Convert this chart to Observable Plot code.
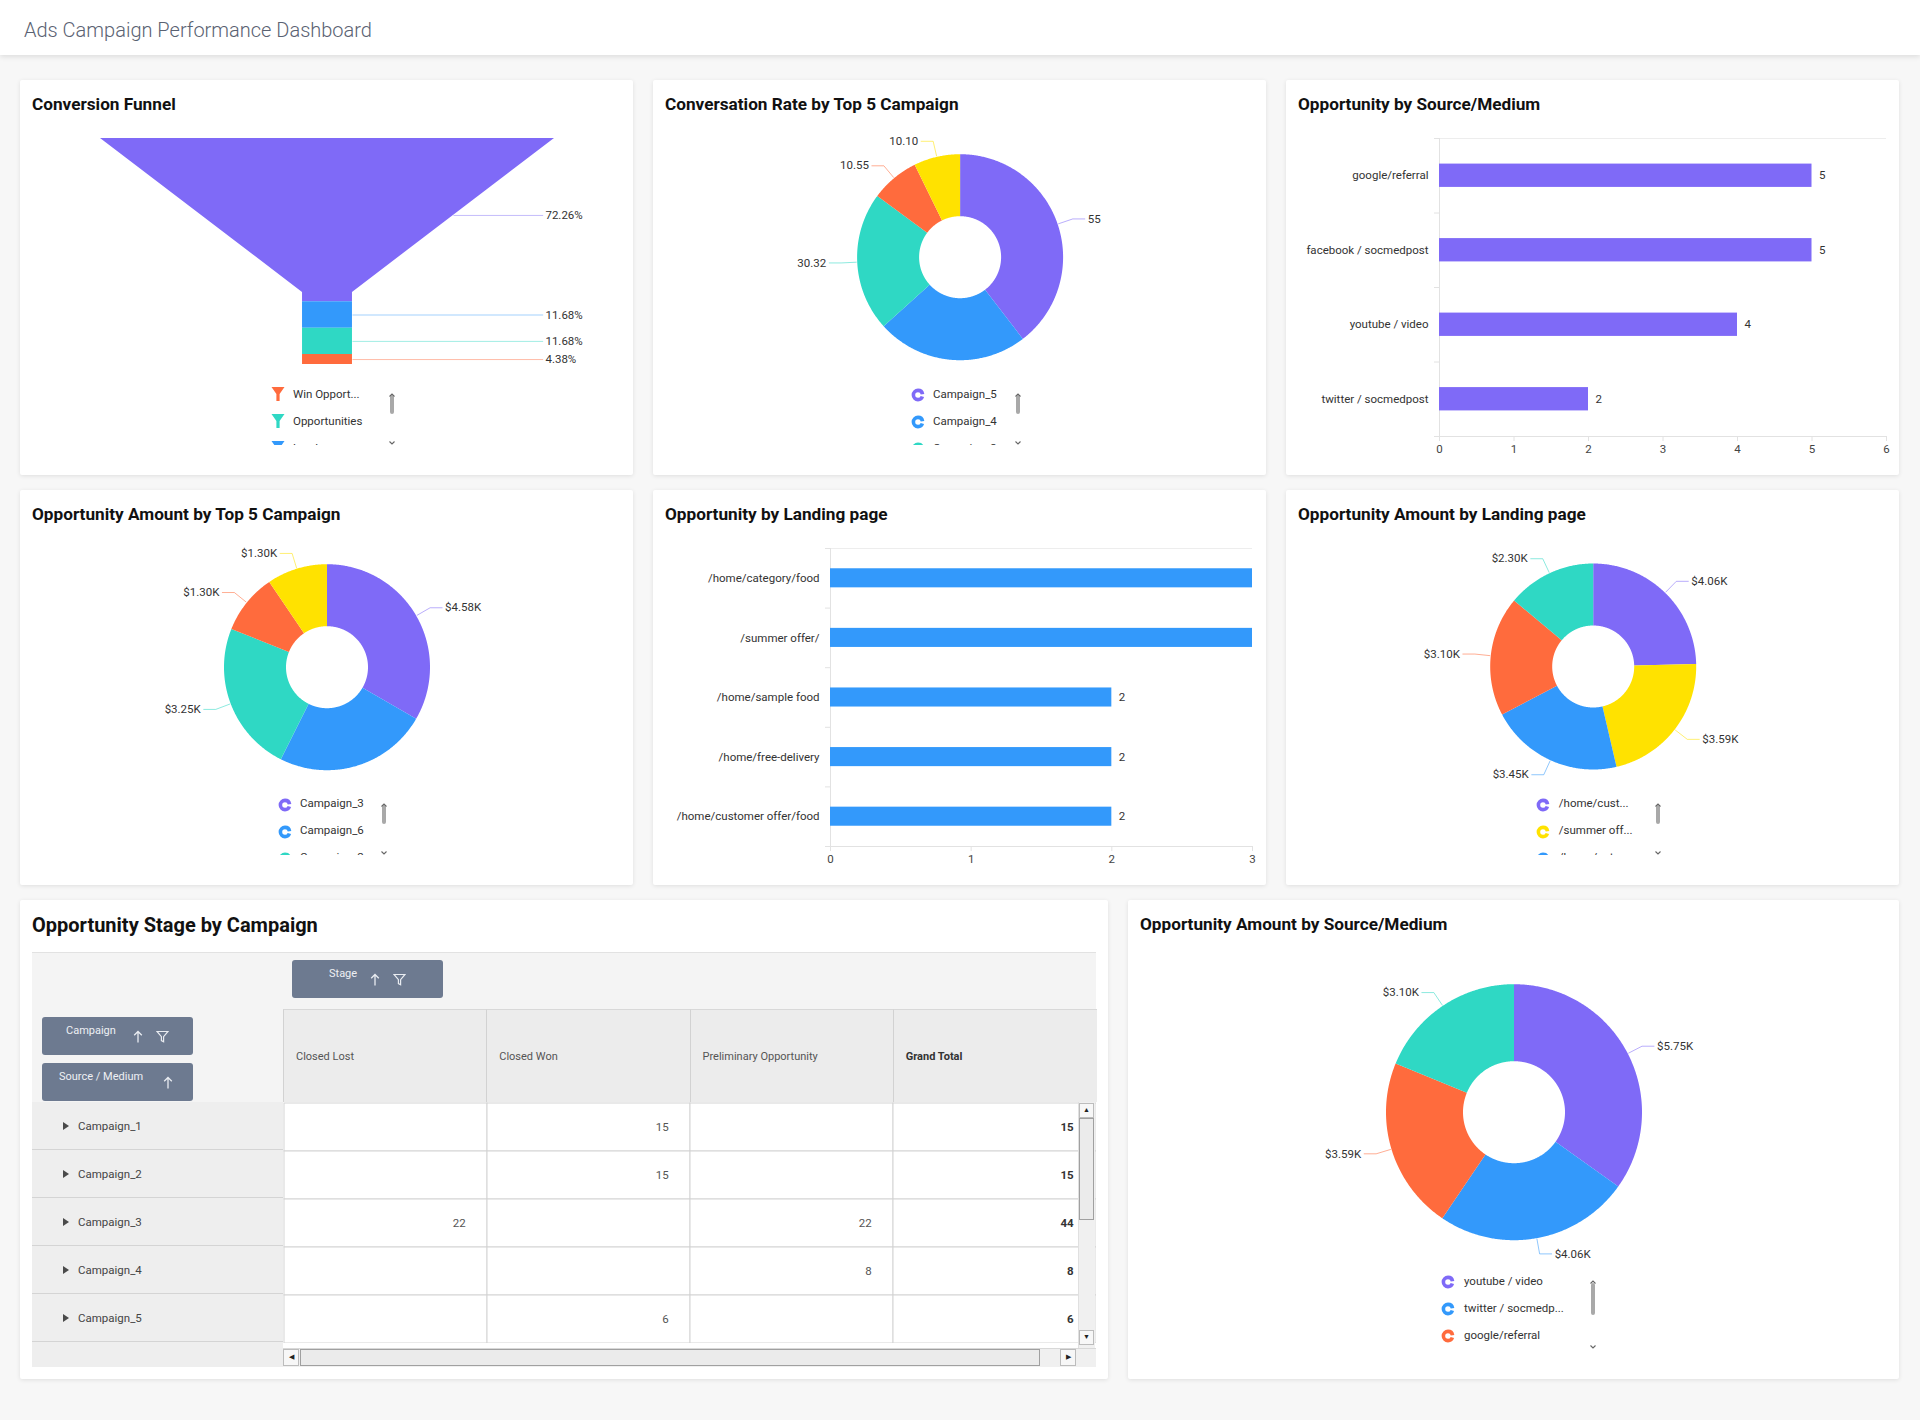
<!DOCTYPE html>
<html>
<head>
<meta charset="utf-8">
<script src="https://cdn.jsdelivr.net/npm/d3@7"></script>
<script src="https://cdn.jsdelivr.net/npm/@observablehq/plot@0.6"></script>
<style>
html,body{margin:0;padding:0;}
body{width:1920px;height:1420px;background:#f7f7f7;font-family:Roboto,"Open Sans",sans-serif;position:relative;overflow:hidden;}
.header{position:absolute;left:0;top:0;width:1920px;height:55px;background:#fff;box-shadow:0 2px 5px rgba(0,0,0,0.10);z-index:3;}
.header .t{position:absolute;left:24px;top:16px;font-size:20px;font-weight:300;color:#5a6272;line-height:28px;white-space:nowrap;}
.card{position:absolute;background:#fff;box-shadow:0 1px 4px rgba(0,0,0,0.10);border-radius:2px;overflow:hidden;}
.card > svg{position:absolute;left:0;top:0;}
.ctitle{position:absolute;left:12px;top:14px;font-size:17.2px;font-weight:700;color:#111;line-height:20px;z-index:2;white-space:nowrap;}
.legend{position:absolute;overflow:hidden;z-index:2;}
.lic{position:absolute;}
.ltx{position:absolute;height:27px;line-height:27px;font-size:11.5px;color:#333;white-space:nowrap;}
.abs{position:absolute;}
.btn{position:absolute;background:#6d7a90;border-radius:3px;color:#eef0f4;font-size:11px;}
.btn span{position:absolute;white-space:nowrap;}
.colh{position:absolute;background:#ececec;border-left:1px solid #d2d2d2;border-top:1px solid #d8d8d8;box-sizing:border-box;font-size:11px;color:#444;}
.colh span{position:absolute;left:12px;top:0;line-height:93px;white-space:nowrap;}
.rowh{position:absolute;background:#eeeeee;border-bottom:1px solid #d4d4d4;box-sizing:border-box;font-size:11.5px;color:#444;}
.rowh span.t{position:absolute;left:46px;top:1px;line-height:47px;white-space:nowrap;}
.rowh span.tri{position:absolute;left:31px;top:20px;width:0;height:0;border-left:6px solid #4a4a4a;border-top:4.5px solid transparent;border-bottom:4.5px solid transparent;}
</style>
</head>
<body>
<div class="header"><div class="t">Ads Campaign Performance Dashboard</div></div>
<script>
// ---------------- DATA ----------------
const funnelStages = ["Sessions", "Leads", "Opportunities", "Win Opportunities"];
const funnelPercents = [72.26, 11.68, 11.68, 4.38];
const funnelLegendLabels = ["Win Opport...", "Opportunities", "Leads"];

const rateCampaigns = ["Campaign_5", "Campaign_4", "Campaign_3", "Campaign_1", "Campaign_2"];
const rateValues = [55, 33.0, 30.32, 10.55, 10.10];
const rateLabels = ["55", "", "30.32", "10.55", "10.10"];

const sourceMediums = ["google/referral", "facebook / socmedpost", "youtube / video", "twitter / socmedpost"];
const sourceOpportunities = [5, 5, 4, 2];
const sourceTicks = [0, 1, 2, 3, 4, 5, 6];

const amountCampaigns = ["Campaign_3", "Campaign_6", "Campaign_2", "Campaign_1", "Campaign_5"];
const amountCampaignValues = [4.58, 3.30, 3.25, 1.30, 1.30];
const amountCampaignLabels = ["$4.58K", "", "$3.25K", "$1.30K", "$1.30K"];

const landingPages = ["/home/category/food", "/summer offer/", "/home/sample food", "/home/free-delivery", "/home/customer offer/food"];
const landingOpportunities = [3, 3, 2, 2, 2];
const landingTicks = [0, 1, 2, 3];

const amountLandingPages = ["/home/customer offer/food", "/summer offer/", "/home/category/food", "/home/sample food", "/home/free-delivery"];
const amountLandingValues = [4.06, 3.59, 3.45, 3.10, 2.30];
const amountLandingLabels = ["$4.06K", "$3.59K", "$3.45K", "$3.10K", "$2.30K"];
const amountLandingLegend = ["/home/cust...", "/summer off...", "/home/cate..."];

const tableStages = ["Closed Lost", "Closed Won", "Preliminary Opportunity", "Grand Total"];
const tableCampaigns = ["Campaign_1", "Campaign_2", "Campaign_3", "Campaign_4", "Campaign_5"];
const closedLost = [null, null, 22, null, null];
const closedWon = [15, 15, null, null, 6];
const preliminaryOpportunity = [null, null, 22, 8, null];
const grandTotal = [15, 15, 44, 8, 6];

const amountSources = ["youtube / video", "twitter / socmedpost", "google/referral", "facebook / socmedpost"];
const amountSourceValues = [5.75, 4.06, 3.59, 3.10];
const amountSourceLabels = ["$5.75K", "$4.06K", "$3.59K", "$3.10K"];
const amountSourceLegend = ["youtube / video", "twitter / socmedp...", "google/referral", "facebook / socm..."];

// ---------------- STYLE ----------------
const C = {purple: "#7f6af7", blue: "#3399fb", teal: "#2fd8c4", orange: "#ff6b3d", yellow: "#ffe200"};
const PLOT_STYLE = "background:transparent;overflow:visible;font-family:Roboto,sans-serif;font-size:11.5px;";

function makeCard(x, y, w, h, title, titleSize) {
  const el = document.createElement("div");
  el.className = "card";
  Object.assign(el.style, {left: x + "px", top: y + "px", width: w + "px", height: h + "px"});
  document.body.appendChild(el);
  if (title) {
    const t = document.createElement("div");
    t.className = "ctitle";
    t.textContent = title;
    if (titleSize) { t.style.fontSize = titleSize + "px"; t.style.lineHeight = "22px"; }
    el.appendChild(t);
  }
  return el;
}

function ns(tag, attrs) {
  const e = document.createElementNS("http://www.w3.org/2000/svg", tag);
  for (const k in attrs) e.setAttribute(k, attrs[k]);
  return e;
}

function donutIcon(color) {
  const s = ns("svg", {width: 14, height: 14, viewBox: "0 0 14 14"});
  s.appendChild(ns("circle", {cx: 7, cy: 7, r: 4.6, fill: "none", stroke: color, "stroke-width": 3.6, "stroke-dasharray": "25.9 3", "stroke-dashoffset": -1.5}));
  return s;
}
function funnelIcon(color) {
  const s = ns("svg", {width: 14, height: 16, viewBox: "0 0 14 16"});
  s.appendChild(ns("polygon", {points: "0.5,1 13.5,1 8.6,8 8.6,15 5.4,15 5.4,8", fill: color}));
  return s;
}
function chevron(up) {
  const s = ns("svg", {width: 8, height: 6, viewBox: "0 0 8 6"});
  s.appendChild(ns("polyline", {points: up ? "1.5,4.5 4,2 6.5,4.5" : "1.5,1.5 4,4 6.5,1.5", fill: "none", stroke: "#666", "stroke-width": 1.1}));
  return s;
}

function legend(el, o) {
  const top = o.firstY - 13.5;
  const box = document.createElement("div");
  box.className = "legend";
  Object.assign(box.style, {left: "0px", top: top + "px", width: "100%", height: (o.clipBottom - top) + "px"});
  o.labels.forEach((lab, i) => {
    const ic = document.createElement("div");
    ic.className = "lic";
    const icon = o.icon === "funnel" ? funnelIcon(o.colors[i]) : donutIcon(o.colors[i]);
    const ih = o.icon === "funnel" ? 16 : 14;
    Object.assign(ic.style, {left: (o.iconX - 7) + "px", top: (i * 27 + 13.5 - ih / 2) + "px", width: "14px", height: ih + "px"});
    ic.appendChild(icon);
    box.appendChild(ic);
    const tx = document.createElement("div");
    tx.className = "ltx";
    tx.textContent = lab;
    Object.assign(tx.style, {left: o.textX + "px", top: (i * 27) + "px"});
    box.appendChild(tx);
  });
  el.appendChild(box);
  const th = document.createElement("div");
  th.className = "abs";
  Object.assign(th.style, {left: (o.scrollX - 2) + "px", top: o.thumbTop + "px", width: "4px", height: o.thumbH + "px", background: "#a9a9a9", borderRadius: "2px"});
  el.appendChild(th);
  const up = document.createElement("div"); up.className = "abs";
  Object.assign(up.style, {left: (o.scrollX - 4) + "px", top: (o.upY - 3) + "px", width: "8px", height: "6px", zIndex: 3});
  up.appendChild(chevron(true)); el.appendChild(up);
  const dn = document.createElement("div"); dn.className = "abs";
  Object.assign(dn.style, {left: (o.scrollX - 4) + "px", top: (o.downY - 3) + "px", width: "8px", height: "6px", zIndex: 3});
  dn.appendChild(chevron(false)); el.appendChild(dn);
}

// Donut drawn with Plot: slices as filled line polygons in a pixel-unit linear scale
function donut(el, o) {
  const {keys, values, labels, colors, cx, cy, r, r0, w, h} = o;
  const off = o.off ?? 16, hz = 12;
  const arcs = d3.pie().sort(null).value(d => d)(values);
  const poly = [], conn = [], labs = [];
  arcs.forEach((p, i) => {
    const a0 = p.startAngle, a1 = p.endAngle;
    const n = Math.max(2, Math.ceil((a1 - a0) / (Math.PI / 360)));
    for (let k = 0; k <= n; k++) { const a = a0 + (a1 - a0) * k / n; poly.push({key: keys[i], color: colors[i], x: cx + r * Math.sin(a), y: cy - r * Math.cos(a)}); }
    for (let k = n; k >= 0; k--) { const a = a0 + (a1 - a0) * k / n; poly.push({key: keys[i], color: colors[i], x: cx + r0 * Math.sin(a), y: cy - r0 * Math.cos(a)}); }
    if (labels[i]) {
      const m = (a0 + a1) / 2, s = Math.sin(m), c = Math.cos(m), side = s >= 0 ? 1 : -1;
      const bx = cx + (r + off) * s, by = cy - (r + off) * c;
      conn.push({key: keys[i], color: colors[i], x: cx + (r + 1) * s, y: cy - (r + 1) * c},
                {key: keys[i], color: colors[i], x: bx, y: by},
                {key: keys[i], color: colors[i], x: bx + side * hz, y: by});
      labs.push({text: labels[i], x: bx + side * (hz + 3), y: by, side});
    }
  });
  const svg = Plot.plot({
    width: w, height: h, margin: 0,
    x: {domain: [0, w], axis: null},
    y: {domain: [0, h], reverse: true, axis: null},
    color: {type: "identity"},
    style: PLOT_STYLE,
    marks: [
      Plot.line(poly, {x: "x", y: "y", z: "key", fill: "color", stroke: "none"}),
      Plot.line(conn, {x: "x", y: "y", z: "key", stroke: "color", strokeOpacity: 0.55, strokeWidth: 1}),
      Plot.text(labs.filter(d => d.side > 0), {x: "x", y: "y", text: "text", textAnchor: "start", fill: "#333", fontSize: 11.5}),
      Plot.text(labs.filter(d => d.side < 0), {x: "x", y: "y", text: "text", textAnchor: "end", fill: "#333", fontSize: 11.5})
    ]
  });
  el.appendChild(svg);
}

function hbar(el, o) {
  const {cats, vals, color, ticks, w, h, ml, mr, mt, mb, frac} = o;
  const n = cats.length;
  const data = cats.map((c, i) => ({cat: c, i, v: vals[i]}));
  const xmax = d3.max(ticks);
  const svg = Plot.plot({
    width: w, height: h, marginLeft: ml, marginRight: mr, marginTop: mt, marginBottom: mb,
    x: {domain: [0, xmax], label: null},
    y: {domain: [-0.5, n - 0.5], reverse: true, label: null},
    style: PLOT_STYLE,
    marks: [
      Plot.ruleY([-0.5], {stroke: "#ededed"}),
      Plot.ruleX([0], {stroke: "#e2e2e2"}),
      Plot.ruleY([n - 0.5], {stroke: "#e2e2e2"}),
      Plot.rect(data, {x1: () => 0, x2: "v", y1: d => d.i - frac / 2, y2: d => d.i + frac / 2, fill: color}),
      Plot.text(data.filter(d => d.v < xmax), {x: "v", y: "i", text: d => String(d.v), dx: 7, textAnchor: "start", fill: "#333", fontSize: 11.5}),
      Plot.axisY(d3.range(n + 1).map(k => k - 0.5), {tickSize: 5, tickFormat: () => "", stroke: "#e2e2e2", label: null}),
      Plot.axisY(d3.range(n), {tickSize: 0, tickPadding: 11, tickFormat: k => cats[k], fill: "#333", fontSize: 11.5, label: null}),
      Plot.axisX(ticks, {tickSize: 5, tickPadding: 3, tickFormat: d => String(d), stroke: "#e2e2e2", fill: "#444", fontSize: 11.5, label: null})
    ]
  });
  el.appendChild(svg);
}

function funnel(el) {
  const W = 613, H = 395;
  const NECK_HALF = 5.5, NECK_START = 68.1, LABEL_X = 48;
  const colors = [C.purple, C.blue, C.teal, C.orange];
  const hw = y => y < NECK_START ? 50 - (50 - NECK_HALF) * y / NECK_START : NECK_HALF;
  const ends = d3.cumsum(funnelPercents);
  const segs = funnelStages.map((s, i) => {
    const y0 = i ? ends[i - 1] : 0, y1 = ends[i];
    const ly = (y0 + (y0 < NECK_START ? Math.min(y1, NECK_START) : y1)) / 2;
    return {stage: s, color: colors[i], y0, y1, ly, label: funnelPercents[i].toFixed(2) + "%"};
  });
  const pts = segs.flatMap(s => {
    const ys = [s.y0];
    if (s.y0 < NECK_START && s.y1 > NECK_START) ys.push(NECK_START);
    ys.push(s.y1);
    return ys.map(y => ({stage: s.stage, color: s.color, y, hw: hw(y)}));
  });
  const svg = Plot.plot({
    width: W, height: H, marginLeft: 80, marginRight: 79, marginTop: 58, marginBottom: 111,
    x: {domain: [-50, 50], axis: null},
    y: {domain: [0, 100], reverse: true, axis: null},
    color: {type: "identity"},
    style: PLOT_STYLE,
    marks: [
      Plot.areaX(pts, {x1: d => -d.hw, x2: d => d.hw, y: "y", z: "stage", fill: "color"}),
      Plot.link(segs, {x1: d => hw(d.ly), y1: "ly", x2: () => LABEL_X - 0.5, y2: "ly", stroke: "color", strokeOpacity: 0.45, strokeWidth: 1}),
      Plot.text(segs, {x: () => LABEL_X, y: "ly", text: "label", textAnchor: "start", fill: "#333", fontSize: 11.5})
    ]
  });
  el.appendChild(svg);
  legend(el, {labels: funnelLegendLabels, colors: [C.orange, C.teal, C.blue], icon: "funnel",
    iconX: 257.6, textX: 273, firstY: 314, clipBottom: 365, scrollX: 372, thumbTop: 315, thumbH: 19, upY: 306, downY: 354});
}

// ---------------- CARDS ----------------
const c1 = makeCard(20, 80, 613, 395, "Conversion Funnel");
funnel(c1);

const c2 = makeCard(653, 80, 613, 395, "Conversation Rate by Top 5 Campaign");
donut(c2, {keys: rateCampaigns, values: rateValues, labels: rateLabels,
  colors: [C.purple, C.blue, C.teal, C.orange, C.yellow], cx: 306.6, cy: 176.7, r: 103, r0: 41, w: 613, h: 395});
legend(c2, {labels: rateCampaigns.slice(0, 3), colors: [C.purple, C.blue, C.teal], icon: "donut",
  iconX: 264.6, textX: 280, firstY: 314, clipBottom: 365, scrollX: 364.6, thumbTop: 315, thumbH: 19, upY: 306, downY: 354});

const c3 = makeCard(1286, 80, 613, 395, "Opportunity by Source/Medium");
hbar(c3, {cats: sourceMediums, vals: sourceOpportunities, color: C.purple, ticks: sourceTicks,
  w: 613, h: 395, ml: 153, mr: 13, mt: 58, mb: 39, frac: 0.313});

const c4 = makeCard(20, 490, 613, 395, "Opportunity Amount by Top 5 Campaign");
donut(c4, {keys: amountCampaigns, values: amountCampaignValues, labels: amountCampaignLabels,
  colors: [C.purple, C.blue, C.teal, C.orange, C.yellow], cx: 306.5, cy: 176.7, r: 103, r0: 41, w: 613, h: 395});
legend(c4, {labels: amountCampaigns.slice(0, 3), colors: [C.purple, C.blue, C.teal], icon: "donut",
  iconX: 264.5, textX: 280, firstY: 313.5, clipBottom: 365, scrollX: 364, thumbTop: 315, thumbH: 19, upY: 306, downY: 354});

const c5 = makeCard(653, 490, 613, 395, "Opportunity by Landing page");
hbar(c5, {cats: landingPages, vals: landingOpportunities, color: C.blue, ticks: landingTicks,
  w: 613, h: 395, ml: 177, mr: 14, mt: 58, mb: 39, frac: 0.32});

const c6 = makeCard(1286, 490, 613, 395, "Opportunity Amount by Landing page");
donut(c6, {keys: amountLandingPages, values: amountLandingValues, labels: amountLandingLabels,
  colors: [C.purple, C.yellow, C.blue, C.orange, C.teal], cx: 306.7, cy: 176, r: 103, r0: 41, w: 613, h: 395});
legend(c6, {labels: amountLandingLegend, colors: [C.purple, C.yellow, C.blue], icon: "donut",
  iconX: 257, textX: 272.8, firstY: 313.5, clipBottom: 365, scrollX: 371.6, thumbTop: 315, thumbH: 19, upY: 306, downY: 354});

// ---------------- TABLE ----------------
const c7 = makeCard(20, 900, 1088, 479, "Opportunity Stage by Campaign", 20);
(function table(el) {
  const add = (cls, st, html) => { const d = document.createElement("div"); d.className = cls; Object.assign(d.style, st); if (html != null) d.innerHTML = html; el.appendChild(d); return d; };
  add("abs", {left: "12px", top: "52px", width: "1064px", height: "415px", background: "#f4f4f4", borderTop: "1px solid #e2e2e2", boxSizing: "border-box"});
  add("abs", {left: "12px", top: "202px", width: "251px", height: "265px", background: "#eeeeee"});
  const upIcon = '<svg width="10" height="13" viewBox="0 0 10 13"><path d="M5 12.5V1.5M1.2 5.3L5 1.5l3.8 3.8" fill="none" stroke="#e9ecf1" stroke-width="1.3"/></svg>';
  const filterIcon = '<svg width="13" height="13" viewBox="0 0 13 13"><path d="M1 1.5h11L7.6 6.6v5.2L5.4 10.6V6.6z" fill="none" stroke="#e9ecf1" stroke-width="1.2"/></svg>';
  const b1 = add("btn", {left: "272px", top: "60px", width: "151px", height: "38px"});
  b1.innerHTML = '<span style="left:37px;top:6px;line-height:16px">Stage</span><span style="left:78px;top:13px">' + upIcon + '</span><span style="left:101px;top:13px">' + filterIcon + '</span>';
  const b2 = add("btn", {left: "22px", top: "117px", width: "151px", height: "38px"});
  b2.innerHTML = '<span style="left:24px;top:6px;line-height:16px">Campaign</span><span style="left:91px;top:13px">' + upIcon + '</span><span style="left:114px;top:13px">' + filterIcon + '</span>';
  const b3 = add("btn", {left: "22px", top: "163px", width: "151px", height: "38px"});
  b3.innerHTML = '<span style="left:17px;top:6px;line-height:16px">Source / Medium</span><span style="left:121px;top:13px">' + upIcon + '</span>';
  const colW = 813 / tableStages.length;
  tableStages.forEach((s, i) => {
    add("colh", {left: (263 + colW * i) + "px", top: "109px", width: (colW + 1) + "px", height: "93px", fontWeight: s === "Grand Total" ? "700" : "400", color: s === "Grand Total" ? "#333" : "#555"}, "<span>" + s + "</span>");
  });
  tableCampaigns.forEach((c, i) => {
    add("rowh", {left: "12px", top: (202 + 48 * i) + "px", width: "251px", height: "48px"}, '<span class="tri"></span><span class="t">' + c + '</span>');
  });
  const stageValues = [closedLost, closedWon, preliminaryOpportunity, grandTotal];
  const cells = tableCampaigns.flatMap((c, ri) => tableStages.map((s, si) => ({campaign: c, stage: s, value: stageValues[si][ri]})));
  const grid = Plot.plot({
    width: 813, height: 241, margin: 0,
    x: {domain: tableStages, padding: 0, axis: null},
    y: {domain: tableCampaigns, padding: 0, axis: null},
    style: "background:white;font-family:Roboto,sans-serif;font-size:11.5px;",
    marks: [
      Plot.cell(cells, {x: "stage", y: "campaign", fill: "white", stroke: "#d4d4d4", inset: 0}),
      Plot.text(cells.filter(d => d.value != null && d.stage !== "Grand Total"), {x: "stage", y: "campaign", text: d => String(d.value), dx: colW / 2 - 22, textAnchor: "end", fill: "#555", fontSize: 11.5}),
      Plot.text(cells.filter(d => d.value != null && d.stage === "Grand Total"), {x: "stage", y: "campaign", text: d => String(d.value), dx: colW / 2 - 23, textAnchor: "end", fill: "#333", fontSize: 11.5, fontWeight: "bold"})
    ]
  });
  const gw = document.createElement("div");
  gw.className = "abs";
  Object.assign(gw.style, {left: "263px", top: "202px", width: "813px", height: "246px", background: "white", overflow: "hidden"});
  grid.style.position = "absolute"; grid.style.left = "0px"; grid.style.top = "0px";
  gw.appendChild(grid);
  el.appendChild(gw);
  add("abs", {left: "1058px", top: "202px", width: "17px", height: "246px", background: "#f0f0f0", borderLeft: "1px solid #e0e0e0", boxSizing: "border-box"});
  add("abs", {left: "1059px", top: "203px", width: "15px", height: "15px", background: "#f7f7f7", border: "1px solid #bcbcbc", boxSizing: "border-box", fontSize: "7px", lineHeight: "13px", textAlign: "center", color: "#222"}, "&#9650;");
  add("abs", {left: "1059px", top: "218px", width: "15px", height: "102px", background: "#ebebeb", border: "1px solid #a0a0a0", boxSizing: "border-box"});
  add("abs", {left: "1059px", top: "430px", width: "15px", height: "15px", background: "#f7f7f7", border: "1px solid #bcbcbc", boxSizing: "border-box", fontSize: "7px", lineHeight: "13px", textAlign: "center", color: "#222"}, "&#9660;");
  add("abs", {left: "263px", top: "448px", width: "813px", height: "19px", background: "#f0f0f0", borderTop: "1px solid #d8d8d8", boxSizing: "border-box"});
  add("abs", {left: "263px", top: "449px", width: "16px", height: "17px", background: "#f7f7f7", border: "1px solid #bcbcbc", boxSizing: "border-box", fontSize: "7px", lineHeight: "15px", textAlign: "center", color: "#222"}, "&#9664;");
  add("abs", {left: "280px", top: "449px", width: "740px", height: "17px", background: "#ebebeb", border: "1px solid #a0a0a0", boxSizing: "border-box"});
  add("abs", {left: "1040px", top: "449px", width: "16px", height: "17px", background: "#f7f7f7", border: "1px solid #bcbcbc", boxSizing: "border-box", fontSize: "7px", lineHeight: "15px", textAlign: "center", color: "#222"}, "&#9654;");
})(c7);

const c8 = makeCard(1128, 900, 771, 479, "Opportunity Amount by Source/Medium");
donut(c8, {keys: amountSources, values: amountSourceValues, labels: amountSourceLabels,
  colors: [C.purple, C.blue, C.orange, C.teal], cx: 385.5, cy: 211.7, r: 128, r0: 51, w: 771, h: 479});
legend(c8, {labels: amountSourceLegend, colors: [C.purple, C.blue, C.orange, C.teal], icon: "donut",
  iconX: 320, textX: 336, firstY: 381, clipBottom: 450, scrollX: 465, thumbTop: 383, thumbH: 32, upY: 373, downY: 438});
</script>
</body>
</html>
